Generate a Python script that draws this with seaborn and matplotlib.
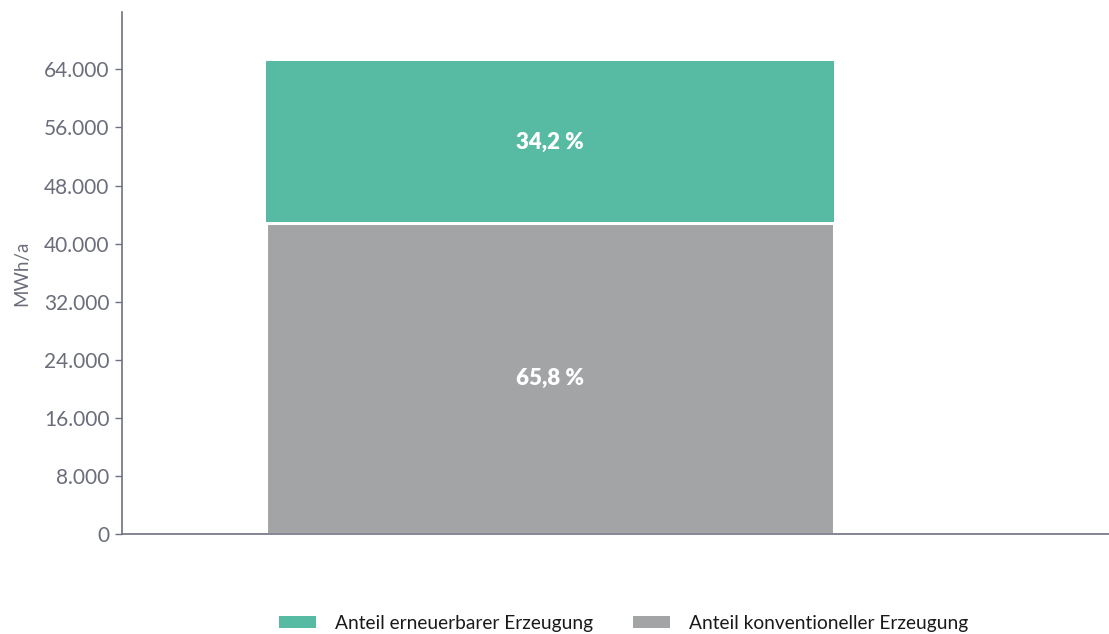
import matplotlib
matplotlib.use("Agg")
import matplotlib.pyplot as plt
import seaborn as sns
import pandas as pd
from matplotlib.patches import Patch
from matplotlib.ticker import FuncFormatter

# Energy generation mix (MWh/a)
categories = ["Erzeugung"]
konventionell = [42836]
erneuerbar = [22264]
share_labels_erneuerbar = ["34,2 %"]
share_labels_konventionell = ["65,8 %"]
series_names = ["Anteil erneuerbarer Erzeugung", "Anteil konventioneller Erzeugung"]
y_ticks = list(range(0, 64001, 8000))

green = "#57BBA3"
grey = "#A3A4A6"
axis_col = "#6E7180"
text_col = "#6B6E7A"

sns.set_theme(style="white")
plt.rcParams["font.family"] = ["Lato", "DejaVu Sans"]

df = pd.DataFrame({
    "cat": categories,
    "konv": konventionell,
    "total": [k + e for k, e in zip(konventionell, erneuerbar)],
})

fig = plt.figure(figsize=(11.09, 6.34), dpi=100)
ax = fig.add_axes([0.110, 0.1577, 0.890, 0.8233])

# stacked bar: full total in green, conventional part drawn over it in grey
sns.barplot(data=df, x="cat", y="total", color=green, width=0.8,
            saturation=1, linewidth=0, ax=ax)
sns.barplot(data=df, x="cat", y="konv", color=grey, width=0.8,
            saturation=1, edgecolor="white", linewidth=2.2, ax=ax)

for i, (k, t) in enumerate(zip(df["konv"], df["total"])):
    ax.text(i, k + (t - k) / 2, share_labels_erneuerbar[i], ha="center", va="center",
            color="white", fontsize=16, fontweight="heavy")
    ax.text(i, k / 2, share_labels_konventionell[i], ha="center", va="center",
            color="white", fontsize=16, fontweight="heavy")

ax.set_xlim(-0.6035, 0.7885)
ax.set_ylim(0, 71900)
ax.set_yticks(y_ticks)
ax.yaxis.set_major_formatter(FuncFormatter(lambda v, p: f"{int(v):,}".replace(",", ".")))
ax.set_xticks([])
ax.set_xlabel("")
ax.set_ylabel("MWh/a", color=text_col, fontsize=13.5, labelpad=10)

for s in ["top", "right"]:
    ax.spines[s].set_visible(False)
for s in ["left", "bottom"]:
    ax.spines[s].set_color(axis_col)
    ax.spines[s].set_linewidth(1.2)

ax.tick_params(axis="y", left=True, length=5, width=1, color=axis_col,
               labelcolor=text_col, labelsize=15, pad=4)

handles = [Patch(facecolor=green, edgecolor="none"), Patch(facecolor=grey, edgecolor="none")]
fig.legend(handles, series_names, loc="center", bbox_to_anchor=(0.5625, 0.017),
           ncol=2, frameon=False, fontsize=13.8, handlelength=1.9, handleheight=0.65,
           handletextpad=1.0, columnspacing=2.1, labelcolor="#1a1a1a")

fig.savefig("out.png", dpi=100)
